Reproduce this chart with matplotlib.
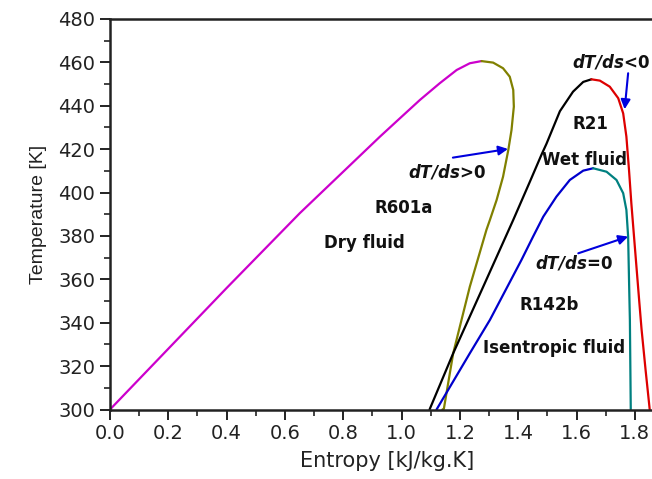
import matplotlib
matplotlib.use("Agg")
import matplotlib.pyplot as plt
from matplotlib.ticker import MultipleLocator

# R601a (dry fluid)
r601a_liq_s = [0.0, 0.2, 0.4, 0.651, 0.926, 0.994, 1.063, 1.131, 1.189, 1.234, 1.274]
r601a_liq_T = [300, 328, 356, 390.5, 425.8, 434.2, 442.7, 450.4, 456.5, 459.6, 460.6]
r601a_vap_s = [1.274, 1.314, 1.348, 1.371, 1.383, 1.385, 1.377, 1.366, 1.348, 1.326,
               1.303, 1.291, 1.234, 1.177, 1.145, 1.140]
r601a_vap_T = [460.6, 459.9, 457.3, 453.4, 447.3, 439.6, 428.8, 419.6, 407.3, 396.6,
               387.4, 382.8, 356.6, 325.9, 300.3, 300]

# R21 (wet fluid)
r21_liq_s = [1.096, 1.177, 1.280, 1.383, 1.440, 1.480, 1.497, 1.543, 1.588, 1.623, 1.651]
r21_liq_T = [300, 325.9, 356.6, 387.4, 405.0, 417.5, 422.5, 437.5, 446.5, 451.0, 452.2]
r21_vap_s = [1.651, 1.680, 1.714, 1.743, 1.760, 1.771, 1.780, 1.788, 1.797, 1.806, 1.815,
             1.823, 1.837, 1.851]
r21_vap_T = [452.2, 451.6, 448.8, 443.5, 436.5, 425.8, 410.4, 395.1, 380.0, 365.0, 350.0,
             337.0, 318.0, 300]

# R142b (isentropic fluid)
r142b_liq_s = [1.120, 1.234, 1.303, 1.411, 1.451, 1.486, 1.531, 1.577, 1.623, 1.657]
r142b_liq_T = [300, 325.9, 341.3, 368.9, 379.7, 388.9, 398.1, 405.8, 410.1, 411.2]
r142b_vap_s = [1.657, 1.703, 1.737, 1.760, 1.771, 1.777, 1.780, 1.783, 1.786]
r142b_vap_T = [411.2, 409.6, 405.8, 399.7, 392.0, 379.7, 360.0, 341.3, 300]

x_ticks = [0.0, 0.2, 0.4, 0.6, 0.8, 1.0, 1.2, 1.4, 1.6, 1.8]
y_ticks = [300, 320, 340, 360, 380, 400, 420, 440, 460, 480]

plt.rcParams['font.family'] = ['DejaVu Sans']

fig = plt.figure(figsize=(6.52, 4.79), dpi=100)
ax = fig.add_axes([110/652, 69.5/479, 554/652, 390.5/479])

lw = 1.6
kw = dict(lw=lw, solid_joinstyle='round', solid_capstyle='round')
ax.plot(r601a_liq_s, r601a_liq_T, color='#CC00CC', **kw)
ax.plot(r601a_vap_s, r601a_vap_T, color='#808000', **kw)
ax.plot(r21_liq_s, r21_liq_T, color='black', **kw)
ax.plot(r21_vap_s, r21_vap_T, color='#DD0000', **kw)
ax.plot(r142b_liq_s, r142b_liq_T, color='#0000CC', **kw)
ax.plot(r142b_vap_s, r142b_vap_T, color='#008080', **kw)

ax.set_xlim(0, 1.9)
ax.set_ylim(300, 480)
ax.set_xticks(x_ticks)
ax.set_xticklabels([f"{v:.1f}" for v in x_ticks])
ax.set_yticks(y_ticks)
ax.xaxis.set_minor_locator(MultipleLocator(0.1))
ax.yaxis.set_minor_locator(MultipleLocator(10))
ax.tick_params(which='major', direction='out', length=7, width=1.4, labelsize=14, colors='#222222')
ax.tick_params(which='minor', direction='out', length=4, width=1.2, colors='#222222')
for sp in ax.spines.values():
    sp.set_linewidth(1.8)
    sp.set_color('#222222')

ax.set_xlabel('Entropy [kJ/kg.K]', fontsize=15, labelpad=6, color='#222222')
ax.set_ylabel('Temperature [K]', fontsize=14, labelpad=8, color='#222222',
              family=['Liberation Sans', 'DejaVu Sans'])

tfs = 12
tc = '#111111'
ax.text(1.006, 392.8, 'R601a', fontsize=tfs, weight='bold', ha='center', va='center', color=tc)
ax.text(0.871, 376.6, 'Dry fluid', fontsize=tfs, weight='bold', ha='center', va='center', color=tc)
ax.text(1.649, 431.6, 'R21', fontsize=tfs, weight='bold', ha='center', va='center', color=tc)
ax.text(1.627, 415.0, 'Wet fluid', fontsize=tfs, weight='bold', ha='center', va='center', color=tc)
ax.text(1.507, 348.2, 'R142b', fontsize=tfs, weight='bold', ha='center', va='center', color=tc)
ax.text(1.522, 328.2, 'Isentropic fluid', fontsize=tfs, weight='bold', ha='center', va='center', color=tc)

ax.text(1.157, 409.6, r'$\mathbfit{dT/ds}$>0', fontsize=tfs, weight='bold', ha='center', va='center', color=tc)
ax.text(1.717, 460.3, r'$\mathbfit{dT/ds}$<0', fontsize=tfs, weight='bold', ha='center', va='center', color=tc)
ax.text(1.592, 367.4, r'$\mathbfit{dT/ds}$=0', fontsize=tfs, weight='bold', ha='center', va='center', color=tc)

ap = dict(arrowstyle='-|>', color='#0000DD', lw=1.5, mutation_scale=14, shrinkA=0, shrinkB=0)
ax.annotate('', xy=(1.365, 420.1), xytext=(1.176, 416.1), arrowprops=ap)
ax.annotate('', xy=(1.777, 379.7), xytext=(1.606, 372.0), arrowprops=ap)
ax.annotate('', xy=(1.765, 438.4), xytext=(1.777, 455.0), arrowprops=ap)

fig.savefig('out.png', dpi=100)
